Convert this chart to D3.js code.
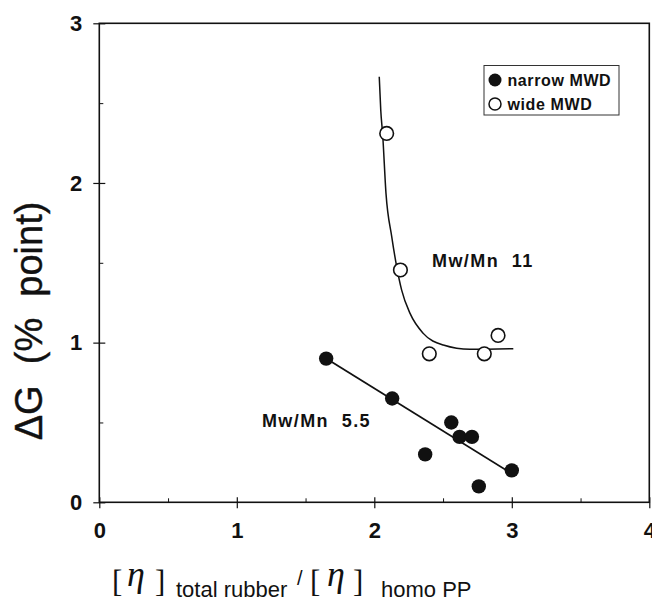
<!DOCTYPE html>
<html>
<head>
<meta charset="utf-8">
<script src="https://cdn.jsdelivr.net/npm/d3@7"></script>
<style>
  html, body { margin: 0; padding: 0; background: #fff; }
  svg { display: block; }
  text { white-space: pre; }
</style>
</head>
<body>
<div id="chart"></div>
<script>
// ---- data ----
const narrowX = [1.65, 2.13, 2.37, 2.56, 2.62, 2.71, 2.76, 3.00];
const narrowY = [0.90, 0.65, 0.30, 0.50, 0.41, 0.41, 0.10, 0.20];
const wideX = [2.09, 2.19, 2.40, 2.80, 2.90];
const wideY = [2.31, 1.455, 0.93, 0.93, 1.045];
// fitted line for narrow MWD (end points)
const narrowFitX = [1.65, 3.00];
const narrowFitY = [0.90, 0.18];
// fitted curve for wide MWD
const wideCurveX = [2.036, 2.047, 2.061, 2.085, 2.127, 2.163, 2.199, 2.26, 2.356, 2.502, 2.696, 3.011];
const wideCurveY = [2.665, 2.456, 2.30, 1.935, 1.663, 1.475, 1.329, 1.183, 1.058, 0.985, 0.958, 0.962];
const xTicks = [0, 1, 2, 3, 4];
const yTicks = [0, 1, 2, 3];
const xMinor = [0.5, 1.5, 2.5, 3.5];
const yMinor = [0.5, 1.5, 2.5];
const legendLabels = ["narrow MWD", "wide MWD"];
const annotations = [
  {text: "Mw/Mn  11", x: 2.42, y: 1.473},
  {text: "Mw/Mn  5.5", x: 1.183, y: 0.471}
];

// ---- layout ----
const W = 652, H = 601;
const x0 = 99.3, x1 = 649.3, yB = 502.3, yT = 23.3;
const x = d3.scaleLinear().domain([0, 4]).range([x0, x1]);
const y = d3.scaleLinear().domain([0, 3]).range([yB, yT]);
const ink = "#111";
const sans = "'Liberation Sans', Arial, Helvetica, sans-serif";
const serif = "'Liberation Serif', 'Times New Roman', serif";

const svg = d3.select("#chart").append("svg").attr("width", W).attr("height", H);
svg.append("rect").attr("width", W).attr("height", H).attr("fill", "#fff");

// frame
svg.append("rect").attr("x", x0).attr("y", yT).attr("width", x1 - x0).attr("height", yB - yT)
  .attr("fill", "none").attr("stroke", ink).attr("stroke-width", 1.6);

// bottom axis ticks (crossing) + labels
const gx = svg.append("g").attr("transform", `translate(0,${yB})`)
  .call(d3.axisBottom(x).tickValues(xTicks).tickSize(6).tickPadding(14).tickFormat(d3.format("d")));
gx.select(".domain").remove();
gx.selectAll(".tick line").attr("y1", -5).attr("y2", 6).attr("stroke", ink).attr("stroke-width", 1.2);
gx.selectAll(".tick text").attr("font-family", sans).attr("font-size", 22).attr("font-weight", "bold").attr("fill", ink);

const gxm = svg.append("g").attr("transform", `translate(0,${yB})`)
  .call(d3.axisBottom(x).tickValues(xMinor).tickSize(0).tickFormat(""));
gxm.select(".domain").remove();
gxm.selectAll(".tick line").attr("y1", -4).attr("y2", 0).attr("stroke", ink).attr("stroke-width", 1);

// left axis ticks + labels
const gy = svg.append("g").attr("transform", `translate(${x0},0)`)
  .call(d3.axisLeft(y).tickValues(yTicks).tickSize(6).tickPadding(11).tickFormat(d3.format("d")));
gy.select(".domain").remove();
gy.selectAll(".tick line").attr("x1", -6).attr("x2", 6).attr("stroke", ink).attr("stroke-width", 1.2);
gy.selectAll(".tick text").attr("font-family", sans).attr("font-size", 22).attr("font-weight", "bold").attr("fill", ink);

const gym = svg.append("g").attr("transform", `translate(${x0},0)`)
  .call(d3.axisLeft(y).tickValues(yMinor).tickSize(0).tickFormat(""));
gym.select(".domain").remove();
gym.selectAll(".tick line").attr("x1", 0).attr("x2", 4).attr("stroke", ink).attr("stroke-width", 1);

// fitted line (narrow)
const line = d3.line().x(d => x(d[0])).y(d => y(d[1]));
svg.append("path").datum(d3.zip(narrowFitX, narrowFitY)).attr("d", line)
  .attr("fill", "none").attr("stroke", ink).attr("stroke-width", 1.8);

// fitted curve (wide)
const curve = d3.line().x(d => x(d[0])).y(d => y(d[1])).curve(d3.curveMonotoneX);
svg.append("path").datum(d3.zip(wideCurveX, wideCurveY)).attr("d", curve)
  .attr("fill", "none").attr("stroke", ink).attr("stroke-width", 1.5);

// points
svg.append("g").selectAll("circle").data(d3.zip(narrowX, narrowY)).join("circle")
  .attr("cx", d => x(d[0])).attr("cy", d => y(d[1])).attr("r", 7.2).attr("fill", ink);
svg.append("g").selectAll("circle").data(d3.zip(wideX, wideY)).join("circle")
  .attr("cx", d => x(d[0])).attr("cy", d => y(d[1])).attr("r", 6.8)
  .attr("fill", "#fff").attr("stroke", ink).attr("stroke-width", 1.6);

// annotations
svg.append("g").selectAll("text").data(annotations).join("text")
  .attr("x", d => x(d.x)).attr("y", d => y(d.y))
  .attr("font-family", sans).attr("font-size", 18).attr("font-weight", "bold")
  .attr("letter-spacing", 1.4).attr("fill", ink).text(d => d.text);

// legend
const lg = svg.append("g");
lg.append("rect").attr("x", 484).attr("y", 65.5).attr("width", 135).attr("height", 49.5)
  .attr("fill", "#fff").attr("stroke", "#333").attr("stroke-width", 1);
legendLabels.forEach((lab, i) => {
  const cy = 80 + i * 24;
  lg.append("circle").attr("cx", 495).attr("cy", cy).attr("r", i === 0 ? 6.5 : 6)
    .attr("fill", i === 0 ? ink : "#fff").attr("stroke", ink).attr("stroke-width", i === 0 ? 0 : 1.5);
  lg.append("text").attr("x", 507.5).attr("y", cy + 5.5)
    .attr("font-family", sans).attr("font-size", 16).attr("font-weight", "bold")
    .attr("letter-spacing", 0.6).attr("fill", ink).text(lab);
});

// y axis title
svg.append("text").attr("transform", "translate(42,321) rotate(-90)")
  .attr("text-anchor", "middle").attr("font-family", sans).attr("font-size", 38)
  .attr("fill", ink).attr("stroke", ink).attr("stroke-width", 0.4).text("ΔG  (%  point)");

// x axis title
const xt = svg.append("g").attr("fill", ink);
const piece = (t, px, py, fam, size, style) =>
  xt.append("text").attr("x", px).attr("y", py).attr("font-family", fam)
    .attr("font-size", size).attr("font-style", style || "normal").text(t);
piece("[", 112, 592, serif, 31);
piece("η", 127, 586, serif, 36, "italic");
piece("]", 155, 592, serif, 31);
piece("total rubber", 176, 597, sans, 22);
piece("/", 297, 585, sans, 20);
piece("[", 310, 592, serif, 31);
piece("η", 327, 586, serif, 36, "italic");
piece("]", 353, 592, serif, 31);
piece("homo PP", 381, 597, sans, 22);
</script>
</body>
</html>
